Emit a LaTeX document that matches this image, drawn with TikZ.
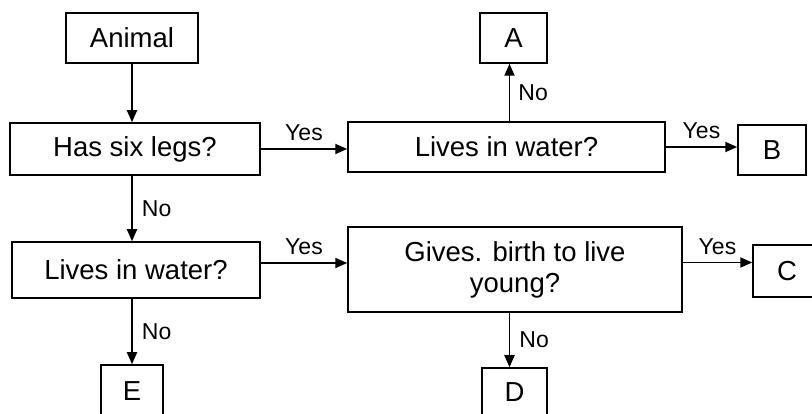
\documentclass[tikz,border=0pt]{standalone}
\usepackage{fontspec}
\setmainfont{Liberation Sans}
\usetikzlibrary{arrows.meta}
\begin{document}
\begin{tikzpicture}[x=1pt,y=-1pt,
  box/.style={draw, line width=1.5pt, inner sep=0pt, align=center,
    font=\fontsize{27.5}{31}\selectfont},
  lbl/.style={font=\fontsize{23}{25}\selectfont, inner sep=0pt},
  arr/.style={line width=1.8pt, -{Triangle[length=12pt,width=10pt]}}]
\useasboundingbox (0,0) rectangle (812,414);
\node[box, minimum width=132, minimum height=50] (animal) at (132,38) {Animal};
\node[box, minimum width=250, minimum height=52] (six) at (135,149) {Has six legs?};
\node[box, minimum width=317, minimum height=50] (live1) at (506.5,147) {Lives in water?};
\node[box, minimum width=67, minimum height=50] (A) at (513.5,38) {A};
\node[box, minimum width=68, minimum height=50] (B) at (772,150) {B};
\node[box, minimum width=248, minimum height=56] (live2) at (136,270) {Lives in water?};
\node[box, minimum width=334, minimum height=85] (gives) at (515,269.5) {Gives. birth to live\\young?};
\node[box, minimum width=68, minimum height=52] (C) at (787,271) {C};
\node[box, minimum width=62, minimum height=52] (E) at (132,391) {E};
\node[box, minimum width=65, minimum height=48] (D) at (514.5,392) {D};

\draw[arr] (animal.south) -- (animal.south |- six.north);
\draw[arr] (six.east) -- (six.east -| live1.west)
  node[lbl, midway, above=7pt] {Yes};
\draw[arr] ([xshift=-4pt]A.south |- live1.north) -- ([xshift=-4pt]A.south)
  node[lbl, midway, right=8pt] {No};
\draw[arr] (live1.east) -- (live1.east -| B.west)
  node[lbl, midway, above=7pt] {Yes};
\draw[arr] (six.south -| animal.south) -- (live2.north -| animal.south)
  node[lbl, midway, right=9pt] {No};
\draw[arr] ([yshift=7pt]live2.east) -- ([yshift=7pt]live2.east -| gives.west)
  node[lbl, midway, above=7pt] {Yes};
\draw[arr] ([yshift=7pt]gives.east) -- ([yshift=7pt]gives.east -| C.west)
  node[lbl, midway, above=7pt] {Yes};
\draw[arr] (live2.south -| E.north) -- (E.north)
  node[lbl, midway, right=9pt] {No};
\draw[arr] ([xshift=-5pt]gives.south -| D.north) -- ([xshift=-5pt]D.north)
  node[lbl, midway, right=9pt] {No};
\end{tikzpicture}
\end{document}
